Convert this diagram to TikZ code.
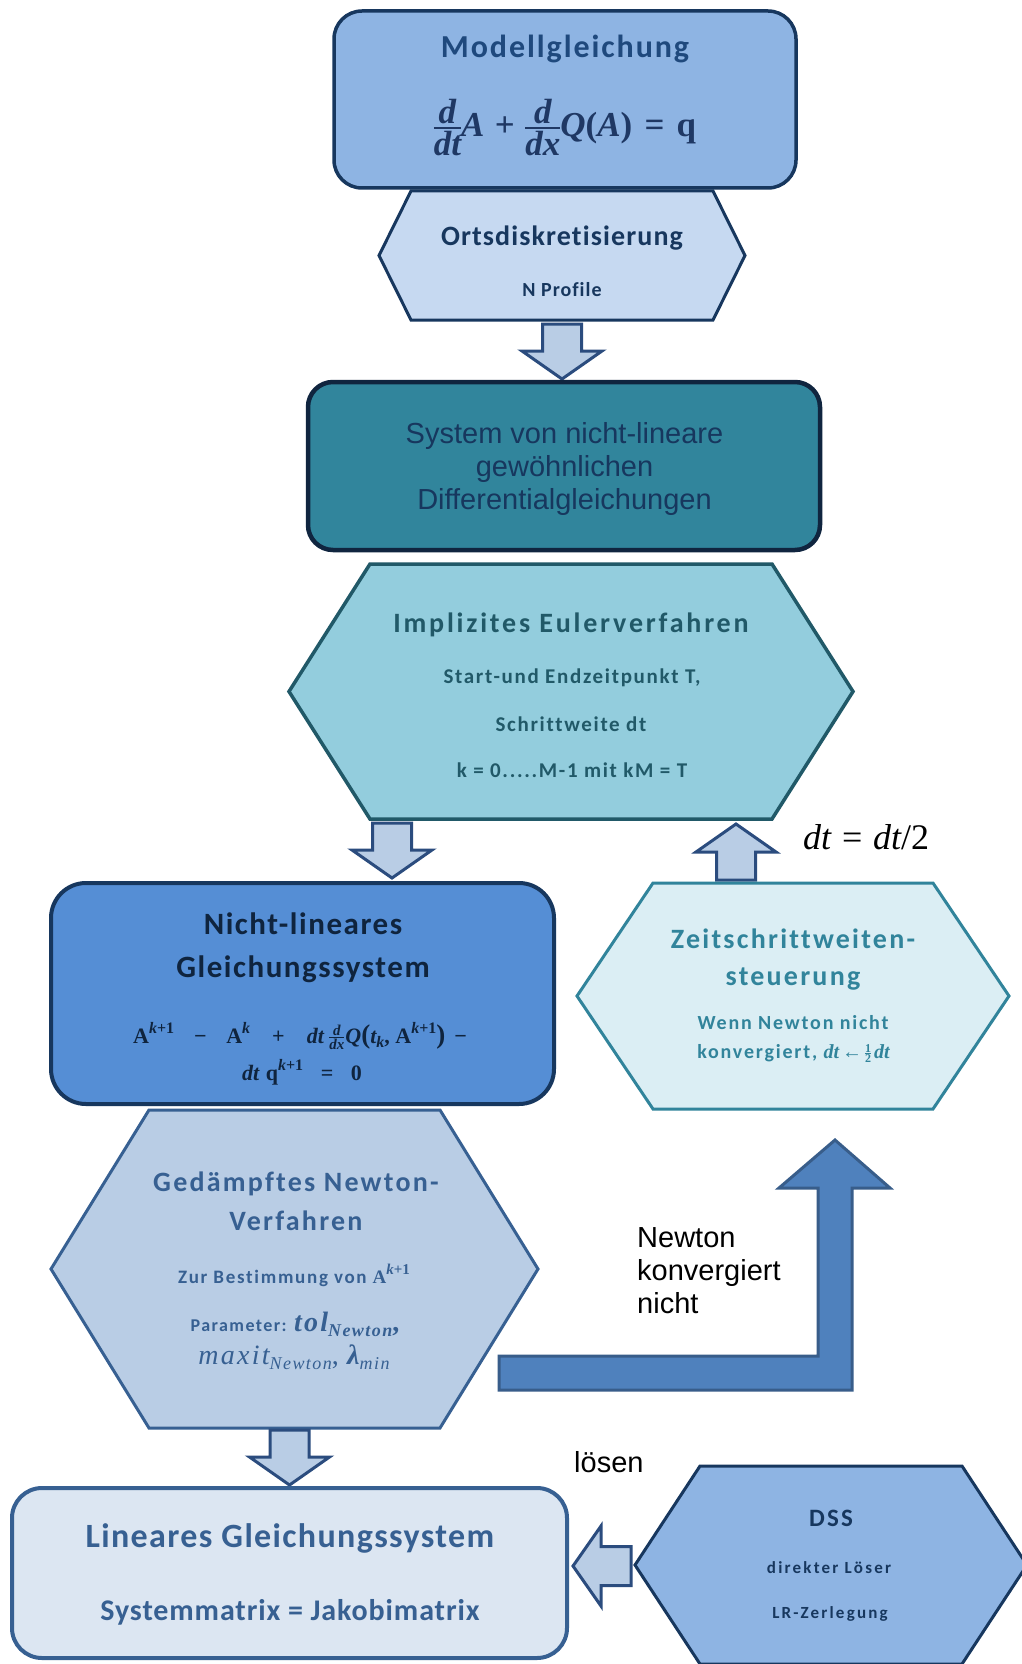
\documentclass[tikz,border=0pt]{standalone}
\usepackage{fontspec}
\setmainfont{Carlito}[Ligatures=NoCommon]
\newfontfamily\arialf{Liberation Sans}
\newfontfamily\mathf{Liberation Serif}
\newfontfamily\mathfs{Liberation Serif}[LetterSpace=8]
\newfontfamily\lsC{Carlito}[LetterSpace=3, Ligatures=NoCommon]
\newfontfamily\lsD{Carlito}[LetterSpace=4, Ligatures=NoCommon]
\newfontfamily\lsE{Carlito}[LetterSpace=5, Ligatures=NoCommon]
\newfontfamily\lsF{Carlito}[LetterSpace=6, Ligatures=NoCommon]
\newfontfamily\lsH{Carlito}[LetterSpace=8, Ligatures=NoCommon]
\newfontfamily\lsI{Carlito}[LetterSpace=9, Ligatures=NoCommon]
\newfontfamily\lsJ{Carlito}[LetterSpace=10, Ligatures=NoCommon]
\newfontfamily\lsM{Carlito}[LetterSpace=13, Ligatures=NoCommon]
\usetikzlibrary{calc}
\definecolor{modfill}{HTML}{8EB4E3}
\definecolor{navy}{HTML}{17375E}
\definecolor{modtext}{HTML}{1F497D}
\definecolor{eqnavy}{HTML}{1F3864}
\definecolor{ortfill}{HTML}{C6D9F1}
\definecolor{arrfill}{HTML}{B9CDE5}
\definecolor{arrdraw}{HTML}{2B4C7E}
\definecolor{sysfill}{HTML}{31859C}
\definecolor{sysdraw}{HTML}{10253F}
\definecolor{eulfill}{HTML}{93CDDD}
\definecolor{euldraw}{HTML}{215968}
\definecolor{nlfill}{HTML}{558ED5}
\definecolor{nltext}{HTML}{0F243E}
\definecolor{zsfill}{HTML}{DBEEF4}
\definecolor{zsdraw}{HTML}{31849B}
\definecolor{gnfill}{HTML}{B9CDE5}
\definecolor{gndraw}{HTML}{376092}
\definecolor{lgfill}{HTML}{DCE6F2}
\definecolor{dssfill}{HTML}{8EB4E3}
\definecolor{bentfill}{HTML}{4F81BD}
\definecolor{bentdraw}{HTML}{385D8A}
\newcommand\fs[2]{\fontsize{#1}{#2}\selectfont}
% text-mode fraction: optional raise, numerator, denominator
\newcommand\tfr[3][-0.54em]{\raisebox{#1}{\vbox{\offinterlineskip\halign{\hfil##\hfil\cr #2\cr\noalign{\kern 0.08em\hrule height 0.05em\kern 0.08em} #3\cr}}}}
\newcommand\eqModell{\mathf\fs{35}{40}\bfseries\itshape \tfr{d}{dt}A\hspace{0.3em}{\upshape +}\hspace{0.3em}\tfr{d}{dx}Q{\upshape (}A{\upshape )}\hspace{0.35em}{\upshape =}\hspace{0.35em}{\upshape q}}
\newcommand\eqHalve{\mathf\fs{36}{40}\itshape dt\hspace{0.3em}{\upshape =}\hspace{0.3em}dt{\upshape /2}}
\newcommand\knext{\raisebox{0.45em}{\fs{15}{15}\itshape k\upshape +1}}
\newcommand\kbig{\raisebox{0.45em}{\fs{16}{16}\itshape k\upshape +1}}
\newcommand\eqNLa{\mathf\fs{22}{26}\bfseries A\kbig\hspace{0.9em}−\hspace{0.9em}A\raisebox{0.45em}{\fs{16}{16}\itshape k}\hspace{1em}+\hspace{1em}{\itshape dt}\hspace{0.25em}{\fs{15}{15}\itshape\tfr[-6pt]{d}{dx}}\hspace{0.05em}{\itshape Q}{\fs{27}{27}(}{\itshape t}\raisebox{-0.2em}{\fs{16}{16}\itshape k}, A\kbig{\fs{27}{27})}\hspace{0.4em}−}
\newcommand\eqNLb{\mathf\fs{22}{26}\bfseries{\itshape dt}\hspace{0.3em}q\kbig\hspace{0.8em}=\hspace{0.8em}0}
\newcommand\eqZS{{\mathf\bfseries\itshape dt\hspace{0.15em}{\upshape ←}\hspace{0.15em}{\fs{12}{12}\upshape\tfr[-4.8pt]{1}{2}}\hspace{0.15em}dt}}
\newcommand\eqAk{{\mathf\bfseries A\knext}}
\newcommand\eqTol{{\mathfs\fs{28}{30}\itshape tol\raisebox{-0.2em}{\fs{18}{18}Newton}\upshape,}}
\newcommand\eqMax{\mathfs\fs{28}{30}\itshape maxit\raisebox{-0.2em}{\fs{18}{18}Newton}{\upshape,}\hspace{0.3em}{\bfseries λ}\raisebox{-0.2em}{\fs{18}{18}min}}
\tikzset{
  txt/.style={anchor=base, inner sep=0pt, outer sep=0pt},
  rbox/.style={inner sep=0pt, outer sep=0pt},
  fatarr/.style={fill=arrfill, draw=arrdraw, line width=3pt, line join=miter},
}
\newcommand\hexnode[7]{%
  \node[minimum width=#4pt, minimum height=#5pt, inner sep=0pt, outer sep=0pt] (#1) at (#2,#3) {};
  \draw[#7] ([xshift=#6pt]#1.north west) -- ([xshift=-#6pt]#1.north east) -- (#1.east)
    -- ([xshift=-#6pt]#1.south east) -- ([xshift=#6pt]#1.south west) -- (#1.west) -- cycle;}
\newcommand\fatarrow[2]{%
  \coordinate (fa-h) at ($(#2)!28pt!(#1)$);
  \draw[fatarr] ($(#1)!19.5pt!90:(#2)$) -- ($(fa-h)!19.5pt!90:(#2)$) -- ($(fa-h)!40pt!90:(#2)$)
    -- (#2) -- ($(fa-h)!40pt!-90:(#2)$) -- ($(fa-h)!19.5pt!-90:(#2)$) -- ($(#1)!19.5pt!-90:(#2)$) -- cycle;}
\begin{document}
\begin{tikzpicture}[x=1pt,y=-1pt]
\fill[white] (0,0) rectangle (1021,1664);
\useasboundingbox (0,0) rectangle (1021,1664);

% Modellgleichung
\node[rbox, fill=modfill, draw=navy, line width=3.5pt, rounded corners=28pt, minimum width=462pt, minimum height=177pt] (modell) at (565,99.5) {};
\node[txt, text=modtext] (modell-t) at (565,58) {\lsF\fs{32}{36}\bfseries Modellgleichung};
\node[txt, text=eqnavy] (modell-eq) at (565,137) {\eqModell};

% Ortsdiskretisierung
\hexnode{ort}{562}{255.5}{366}{129}{32}{fill=ortfill, draw=navy, line width=3pt}
\node[txt, text=navy] (ort-t) at (562,245) {\lsD\fs{28}{32}\bfseries Ortsdiskretisierung};
\node[txt, text=navy] (ort-s) at (562,296) {\lsE\fs{20}{22}\bfseries N Profile};

% arrow 1
\coordinate (a1s) at ($(ort.south)+(0,4)$);
\coordinate (a1e) at ($(ort.south)+(0,59)$);
\fatarrow{a1s}{a1e}

% System
\node[rbox, fill=sysfill, draw=sysdraw, line width=4.5pt, rounded corners=25pt, minimum width=512pt, minimum height=168pt] (sys) at (564,466) {};
\node[txt, text=navy] (sys-1) at (564.5,443) {\arialf\fs{29}{33}System von nicht-lineare};
\node[txt, text=navy] (sys-2) at (564.5,476) {\arialf\fs{29}{33}gewöhnlichen};
\node[txt, text=navy] (sys-3) at (564.5,509) {\arialf\fs{29}{33}Differentialgleichungen};

% Implizites Eulerverfahren
\hexnode{euler}{571}{691.5}{564}{255}{81}{fill=eulfill, draw=euldraw, line width=3.5pt}
\node[txt, text=euldraw] (euler-t) at (571,632) {\lsJ\fs{28}{30}\bfseries Implizites Eulerverfahren};
\node[txt, text=euldraw] (euler-1) at (572,683) {\lsH\fs{21}{24}\bfseries Start-und Endzeitpunkt T,};
\node[txt, text=euldraw] (euler-2) at (571,731) {\lsH\fs{21}{24}\bfseries Schrittweite dt};
\node[txt, text=euldraw] (euler-3) at (572,777) {\lsH\fs{21}{24}\bfseries k = 0.....M-1 mit kM = T};

% arrow 2 and 3
\coordinate (a2s) at (392,823);
\coordinate (a2e) at (392,878);
\fatarrow{a2s}{a2e}
\coordinate (a3s) at (736,880);
\coordinate (a3e) at (736,824);
\fatarrow{a3s}{a3e}
\node[anchor=base west, inner sep=0pt] (halve) at (803,849) {\eqHalve};

% Nicht-lineares Gleichungssystem
\node[rbox, fill=nlfill, draw=navy, line width=4pt, rounded corners=35pt, minimum width=503pt, minimum height=221pt] (nl) at (302.5,993.5) {};
\node[txt, text=nltext] (nl-1) at (303,934) {\lsE\fs{31}{36}\bfseries Nicht-lineares};
\node[txt, text=nltext] (nl-2) at (303,977) {\lsE\fs{31}{36}\bfseries Gleichungssystem};
\node[txt, text=nltext] (nl-3) at (300,1043) {\eqNLa};
\node[txt, text=nltext] (nl-4) at (302,1080) {\eqNLb};

% Zeitschrittweitensteuerung
\hexnode{zs}{793}{996}{432}{226}{76}{fill=zsfill, draw=zsdraw, line width=3pt}
\node[txt, text=zsdraw] (zs-1) at (793,948) {\lsH\fs{28}{30}\bfseries Zeitschrittweiten-};
\node[txt, text=zsdraw] (zs-2) at (793,985) {\lsH\fs{28}{30}\bfseries steuerung};
\node[txt, text=zsdraw] (zs-3) at (793,1029) {\lsI\fs{20}{22}\bfseries Wenn Newton nicht};
\node[txt, text=zsdraw] (zs-4) at (793.5,1058) {\lsI\fs{20}{22}\bfseries konvergiert, \eqZS};

% Gedaempftes Newton-Verfahren
\hexnode{gn}{294.5}{1269}{487}{318}{98}{fill=gnfill, draw=gndraw, line width=3pt}
\node[txt, text=gndraw] (gn-1) at (296,1191) {\lsH\fs{28}{30}\bfseries Gedämpftes Newton-};
\node[txt, text=gndraw] (gn-2) at (296,1230) {\lsH\fs{28}{30}\bfseries Verfahren};
\node[txt, text=gndraw] (gn-3) at (294,1283) {\lsI\fs{19}{22}\bfseries Zur Bestimmung von \eqAk};
\node[txt, text=gndraw] (gn-4) at (295,1331) {\lsH\fs{18}{22}\bfseries Parameter: \eqTol};
\node[txt, text=gndraw] (gn-5) at (294,1364) {\eqMax};

% bent arrow
\coordinate (b1) at ($(gn.east)+(-39,87)$);
\path[fill=bentfill, draw=bentdraw, line width=3pt, line join=miter] (b1) -- ++(319,0) -- ++(0,-168) -- ++(-39,0) -- ++(56,-48) -- ++(55,48) -- ++(-38,0) -- ++(0,202) -- ++(-353,0) -- cycle;
\node[anchor=base west, inner sep=0pt] (nk-1) at (637,1247) {\arialf\fs{29}{33}Newton};
\node[anchor=base west, inner sep=0pt] (nk-2) at (637,1280) {\arialf\fs{29}{33}konvergiert};
\node[anchor=base west, inner sep=0pt] (nk-3) at (637,1313) {\arialf\fs{29}{33}nicht};

% arrow 4
\coordinate (a4s) at ($(gn.south)+(-5,2)$);
\coordinate (a4e) at ($(gn.south)+(-5,57)$);
\fatarrow{a4s}{a4e}

% Lineares Gleichungssystem
\node[rbox, fill=lgfill, draw=gndraw, line width=4pt, rounded corners=30pt, minimum width=555pt, minimum height=170pt] (lg) at (289.5,1573) {};
\node[txt, text=gndraw] (lg-1) at (290,1547) {\lsD\fs{34}{38}\bfseries Lineares Gleichungssystem};
\node[txt, text=gndraw] (lg-2) at (290,1620) {\lsC\fs{30}{34}\bfseries Systemmatrix = Jakobimatrix};

% DSS
\hexnode{dss}{831}{1565}{392}{198}{65}{fill=dssfill, draw=navy, line width=3pt}
\node[txt, text=navy] (dss-1) at (831,1526) {\lsI\fs{25}{28}\bfseries DSS};
\node[txt, text=navy] (dss-2) at (829,1573) {\lsM\fs{17}{22}\bfseries direkter Löser};
\node[txt, text=navy] (dss-3) at (830,1618) {\lsM\fs{17}{22}\bfseries LR-Zerlegung};

% arrow 5
\coordinate (a5s) at ($(dss.west)+(-4,1)$);
\coordinate (a5e) at ($(lg.east)+(6,-7)$);
\fatarrow{a5s}{a5e}
\node[anchor=base west, inner sep=0pt] (loesen) at (574,1472) {\arialf\fs{29}{33}lösen};
\end{tikzpicture}
\end{document}
